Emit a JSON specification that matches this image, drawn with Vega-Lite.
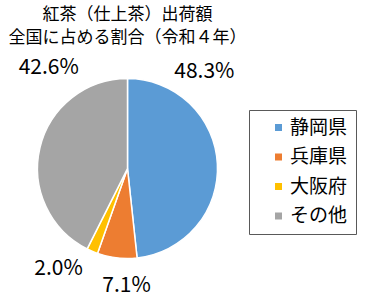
{
  "$schema": "https://vega.github.io/schema/vega-lite/v6.json",
  "autosize": "none",
  "width": 255,
  "height": 217,
  "padding": {"left": 0, "top": 60, "right": 123, "bottom": 27},
  "background": "white",
  "config": {
    "view": {"stroke": null},
    "font": "Noto Sans CJK JP"
  },
  "title": {
    "text": ["紅茶（仕上茶）出荷額", "全国に占める割合（令和４年）"],
    "fontSize": 17,
    "fontWeight": "normal",
    "lineHeight": 23,
    "color": "#000000",
    "anchor": "middle",
    "offset": -7
  },
  "data": {
    "values": [
      {"category": "静岡県", "value": 48.3, "label": "48.3%", "rank": 1},
      {"category": "兵庫県", "value": 7.1, "label": "7.1%", "rank": 2},
      {"category": "大阪府", "value": 2.0, "label": "2.0%", "rank": 3},
      {"category": "その他", "value": 42.6, "label": "42.6%", "rank": 4}
    ]
  },
  "encoding": {
    "theta": {"field": "value", "type": "quantitative", "stack": true},
    "order": {"field": "rank", "type": "quantitative"}
  },
  "layer": [
    {
      "mark": {"type": "arc", "outerRadius": 90, "stroke": "white", "strokeWidth": 1.5},
      "encoding": {
        "color": {
          "field": "category",
          "type": "nominal",
          "scale": {
            "domain": ["静岡県", "兵庫県", "大阪府", "その他"],
            "range": ["#5B9BD5", "#ED7D31", "#FFC000", "#A5A5A5"]
          },
          "legend": {
            "title": null,
            "orient": "none",
            "legendX": 249,
            "legendY": 50,
            "padding": 8,
            "strokeColor": "#595959",
            "symbolType": "square",
            "symbolSize": 49,
            "symbolStrokeWidth": 0,
            "symbolOffset": 12,
            "labelOffset": 2,
            "labelFontSize": 19,
            "labelColor": "#000000",
            "labelFont": "Noto Sans CJK JP",
            "rowPadding": 9.5
          }
        }
      }
    },
    {
      "mark": {"type": "text", "radius": 120, "fontSize": 21, "dx": -43, "dy": -90, "color": "#000000"},
      "encoding": {"text": {"condition": {"test": "datum.category === '静岡県'", "field": "label"}, "value": ""}}
    },
    {
      "mark": {"type": "text", "radius": 120, "fontSize": 21, "dx": 13, "dy": -2, "color": "#000000"},
      "encoding": {"text": {"condition": {"test": "datum.category === '兵庫県'", "field": "label"}, "value": ""}}
    },
    {
      "mark": {"type": "text", "radius": 120, "fontSize": 21, "dx": -22, "dy": -10, "color": "#000000"},
      "encoding": {"text": {"condition": {"test": "datum.category === '大阪府'", "field": "label"}, "value": ""}}
    },
    {
      "mark": {"type": "text", "radius": 120, "fontSize": 21, "dx": 38, "dy": -73, "color": "#000000"},
      "encoding": {"text": {"condition": {"test": "datum.category === 'その他'", "field": "label"}, "value": ""}}
    }
  ]
}
